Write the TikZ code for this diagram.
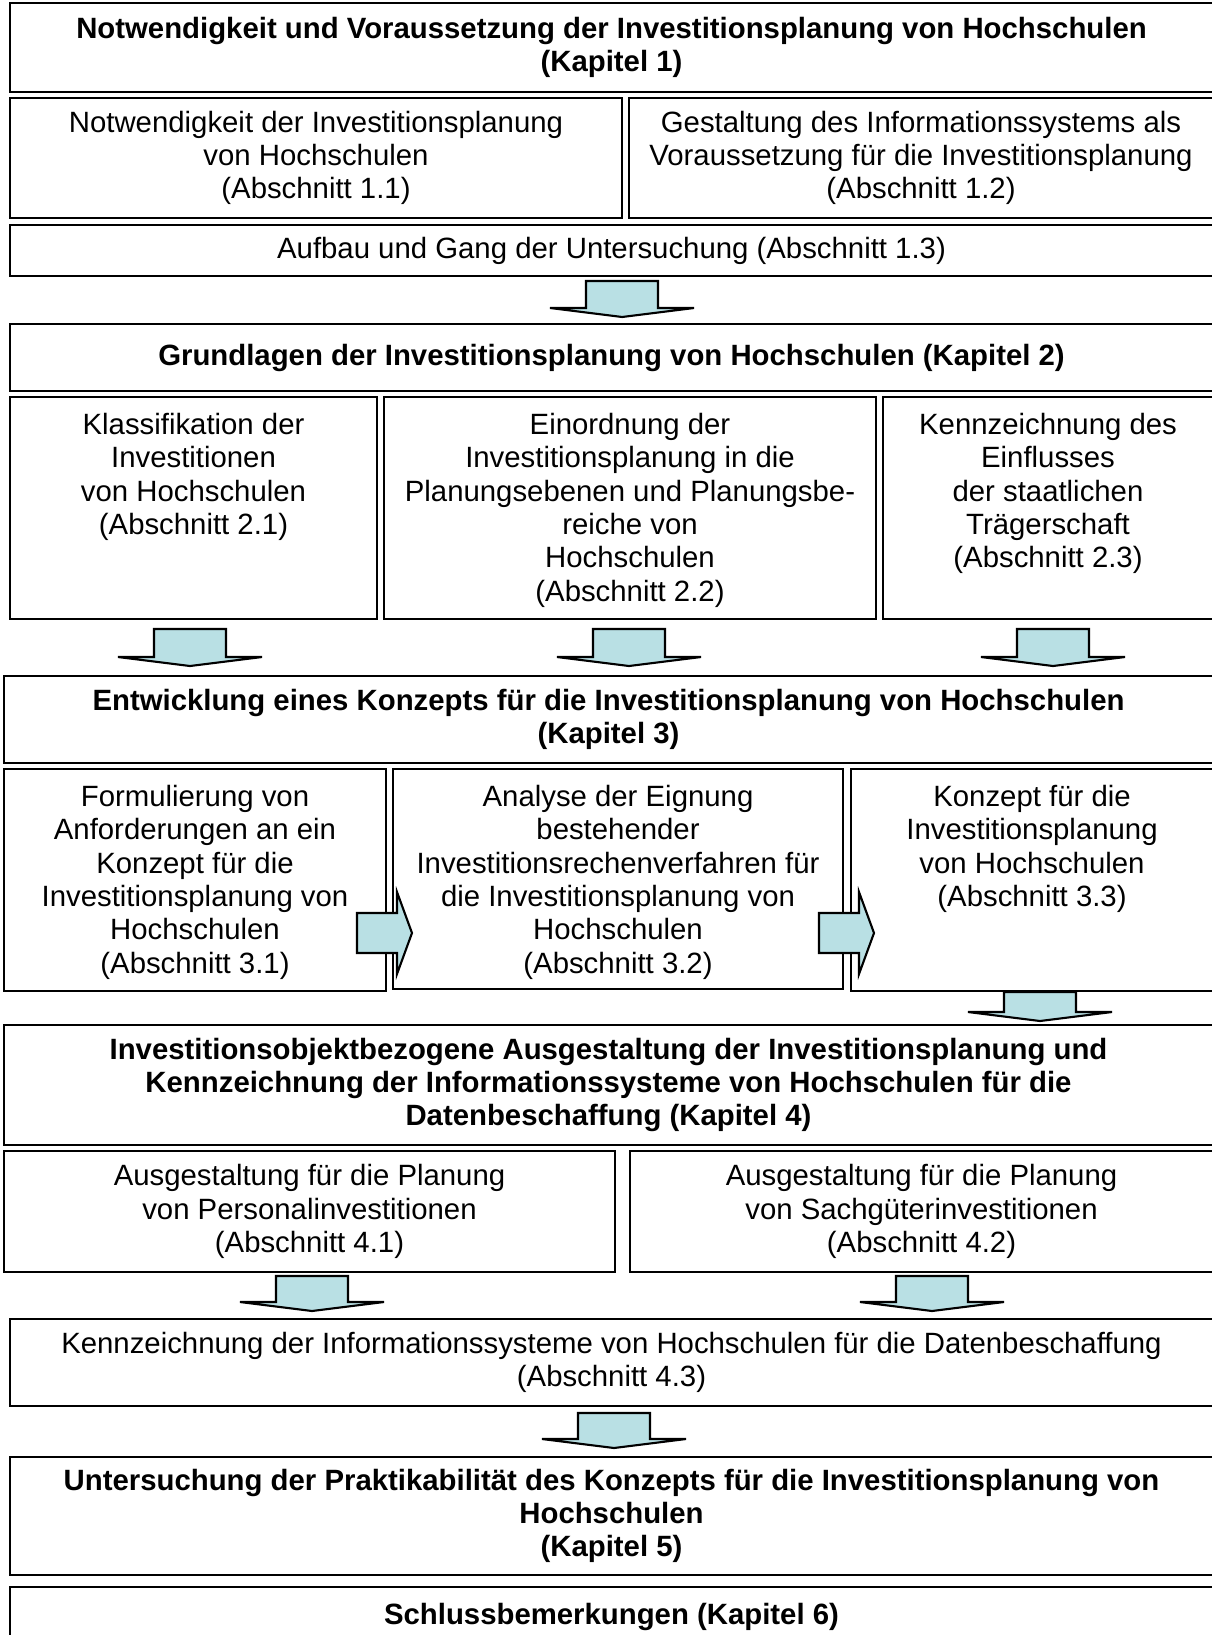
\documentclass[tikz,border=0pt]{standalone}
\usepackage{fontspec}
\setmainfont{Liberation Sans}
\usetikzlibrary{positioning}
\definecolor{arrowfill}{RGB}{185,224,228}

\begin{document}
\begin{tikzpicture}[x=0.02cm,y=-0.02cm,line width=1.2pt,
  downarr/.pic={\draw[fill=arrowfill] (-36,0) -- (36,0) -- (36,#1) -- (72,#1) -- (0,#1+9) -- (-72,#1) -- (-36,#1) -- cycle;},
  rightarr/.pic={\draw[fill=arrowfill] (0,-20) -- (40,-20) -- (40,-41) -- (55,0) -- (40,41) -- (40,20) -- (0,20) -- cycle;}]
\tikzstyle{box}=[draw, rectangle, inner sep=0pt, align=center, font=\fontsize{16.7}{19}\selectfont]
\tikzstyle{chap}=[box, font=\fontsize{16.7}{19}\selectfont\bfseries]
\tikzstyle{txt}=[inner sep=0pt, align=center, font=\fontsize{16.7}{19}\selectfont]

\useasboundingbox (0,0) rectangle (1211,1635);

% Kapitel 1
\node[chap, minimum width=24.06cm, minimum height=1.78cm] (k1) at (611.5,47.5) {Notwendigkeit und Voraussetzung der Investitionsplanung von Hochschulen\\(Kapitel 1)};
\node[box, minimum width=12.24cm, minimum height=2.4cm] (a11) at (316,158) {Notwendigkeit der Investitionsplanung\\von Hochschulen\\(Abschnitt 1.1)};
\node[box, minimum width=11.68cm, minimum height=2.4cm] (a12) at (921,158) {Gestaltung des Informationssystems als\\Voraussetzung für die Investitionsplanung\\(Abschnitt 1.2)};
\node[box, minimum width=24.06cm, minimum height=1.02cm] (a13) at (611.5,250.5) {Aufbau und Gang der Untersuchung (Abschnitt 1.3)};

% Kapitel 2
\node[chap, minimum width=24.06cm, minimum height=1.34cm] (k2) at (611.5,357.5) {Grundlagen der Investitionsplanung von Hochschulen (Kapitel 2)};
\node[box, minimum width=7.34cm, minimum height=4.44cm] (a21) at (193.5,508) {};
\node[box, minimum width=9.84cm, minimum height=4.44cm] (a22) at (630,508) {};
\node[box, minimum width=6.6cm, minimum height=4.44cm] (a23) at (1048,508) {};
\node[txt, below=0.32cm of a21.north] (t21) {Klassifikation der\\Investitionen\\von Hochschulen\\(Abschnitt 2.1)};
\node[txt, below=0.32cm of a22.north] (t22) {Einordnung der\\Investitionsplanung in die\\Planungsebenen und Planungsbe-\\reiche von\\Hochschulen\\(Abschnitt 2.2)};
\node[txt, below=0.32cm of a23.north] (t23) {Kennzeichnung des\\Einflusses\\der staatlichen\\Trägerschaft\\(Abschnitt 2.3)};

% Kapitel 3
\node[chap, minimum width=24.18cm, minimum height=1.74cm] (k3) at (608.5,719.5) {Entwicklung eines Konzepts für die Investitionsplanung von Hochschulen\\(Kapitel 3)};
\node[box, minimum width=7.64cm, minimum height=4.44cm] (a31) at (195,880) {};
\node[box, minimum width=9cm, minimum height=4.4cm] (a32) at (618,879) {};
\node[box, minimum width=7.24cm, minimum height=4.44cm] (a33) at (1032,880) {};
\node[txt, below=0.32cm of a31.north] (t31) {Formulierung von\\Anforderungen an ein\\Konzept für die\\Investitionsplanung von\\Hochschulen\\(Abschnitt 3.1)};
\node[txt, below=0.32cm of a32.north] (t32) {Analyse der Eignung\\bestehender\\Investitionsrechenverfahren für\\die Investitionsplanung von\\Hochschulen\\(Abschnitt 3.2)};
\node[txt, below=0.32cm of a33.north] (t33) {Konzept für die\\Investitionsplanung\\von Hochschulen\\(Abschnitt 3.3)};

% Kapitel 4
\node[chap, minimum width=24.18cm, minimum height=2.4cm] (k4) at (608.5,1085) {Investitionsobjektbezogene Ausgestaltung der Investitionsplanung und\\Kennzeichnung der Informationssysteme von Hochschulen für die\\Datenbeschaffung (Kapitel 4)};
\node[box, minimum width=12.22cm, minimum height=2.42cm] (a41) at (309.5,1211.5) {Ausgestaltung für die Planung\\von Personalinvestitionen\\(Abschnitt 4.1)};
\node[box, minimum width=11.66cm, minimum height=2.42cm] (a42) at (921.5,1211.5) {Ausgestaltung für die Planung\\von Sachgüterinvestitionen\\(Abschnitt 4.2)};
\node[box, minimum width=24.06cm, minimum height=1.74cm] (a43) at (611.5,1362.5) {Kennzeichnung der Informationssysteme von Hochschulen für die Datenbeschaffung\\(Abschnitt 4.3)};

% Kapitel 5 und 6
\node[chap, minimum width=24.06cm, minimum height=2.36cm] (k5) at (611.5,1516) {Untersuchung der Praktikabilität des Konzepts für die Investitionsplanung von\\Hochschulen\\(Kapitel 5)};
\node[chap, minimum width=24.06cm, minimum height=1.2cm] (k6) at (611.5,1617) {Schlussbemerkungen (Kapitel 6)};

% Pfeile
\pic at (622,281) {downarr=27};
\pic at (190,629) {downarr=28};
\pic at (629,629) {downarr=28};
\pic at (1053,629) {downarr=28};
\pic at (357,933) {rightarr};
\pic at (819,933) {rightarr};
\pic at (1040,992) {downarr=20};
\pic at (312,1276) {downarr=26};
\pic at (932,1276) {downarr=26};
\pic at (614,1413) {downarr=26};
\end{tikzpicture}
\end{document}
